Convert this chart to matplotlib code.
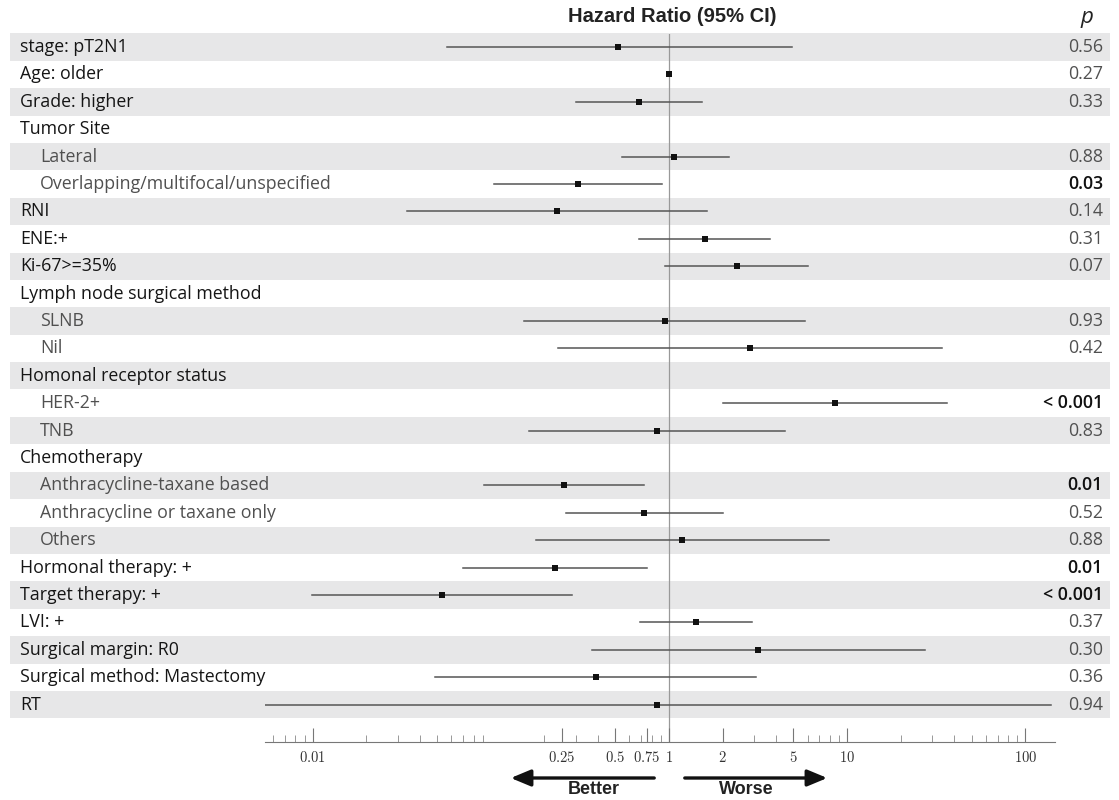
"""
Forest plot: hazard ratios with 95% CI
"""

import matplotlib
matplotlib.use('Agg')
import matplotlib.pyplot as plt
from matplotlib.ticker import FixedLocator, LogLocator, NullFormatter

plt.rcParams['mathtext.fontset'] = 'cm'

# 数据
labels = ['stage: pT2N1', 'Age: older', 'Grade: higher', 'Tumor Site',
          'Lateral', 'Overlapping/multifocal/unspecified', 'RNI', 'ENE:+',
          'Ki-67>=35%', 'Lymph node surgical method', 'SLNB', 'Nil',
          'Homonal receptor status', 'HER-2+', 'TNB', 'Chemotherapy',
          'Anthracycline-taxane based', 'Anthracycline or taxane only',
          'Others', 'Hormonal therapy: +', 'Target therapy: +', 'LVI: +',
          'Surgical margin: R0', 'Surgical method: Mastectomy', 'RT']
is_sub = [False, False, False, False, True, True, False, False, False, False,
          True, True, False, True, True, False, True, True, True, False,
          False, False, False, False, False]
hr = [0.52, 1.0, 0.68, None, 1.07, 0.31, 0.235, 1.59, 2.41, None, 0.95, 2.85,
      None, 8.56, 0.86, None, 0.257, 0.72, 1.18, 0.229, 0.053, 1.42, 3.16,
      0.39, 0.86]
ci_lo = [0.057, 0.99, 0.30, None, 0.545, 0.104, 0.034, 0.68, 0.95, None,
         0.153, 0.238, None, 2.01, 0.163, None, 0.091, 0.264, 0.179, 0.070,
         0.0099, 0.687, 0.369, 0.0485, 0.005]
ci_hi = [4.91, 1.01, 1.53, None, 2.17, 0.91, 1.64, 3.69, 6.04, None, 5.81,
         34.2, None, 36.5, 4.48, None, 0.72, 2.01, 7.92, 0.75, 0.285, 2.93,
         27.4, 3.08, 140]
p_vals = ['0.56', '0.27', '0.33', '', '0.88', '0.03', '0.14', '0.31', '0.07',
          '', '0.93', '0.42', '', '< 0.001', '0.83', '', '0.01', '0.52',
          '0.88', '0.01', '< 0.001', '0.37', '0.30', '0.36', '0.94']
p_bold = [False, False, False, False, False, True, False, False, False, False,
          False, False, False, True, False, False, True, False, False, True,
          True, False, False, False, False]
major_ticks = [0.01, 0.25, 0.5, 0.75, 1, 2, 5, 10, 100]
tick_labels = ['0.01', '0.25', '0.5', '0.75', '1', '2', '5', '10', '100']

W, H = 1119, 800
fig = plt.figure(figsize=(W / 100, H / 100), dpi=100)

# 背景坐标系 (像素坐标)
bg = fig.add_axes([0, 0, 1, 1])
bg.set_xlim(0, W)
bg.set_ylim(H, 0)
bg.axis('off')

y0, dy = 47, 27.4
ys = [y0 + i * dy for i in range(len(labels))]

for i, y in enumerate(ys):
    if i % 2 == 0:
        bg.axhspan(y - dy / 2, y + dy / 2, xmin=10 / W, xmax=1110 / W,
                   color='#e7e7e8', lw=0, zorder=0)
    if is_sub[i]:
        bg.text(40, y, labels[i], ha='left', va='center', fontsize=12.8,
                family='Open Sans', color='#505050')
    else:
        bg.text(20, y, labels[i], ha='left', va='center', fontsize=12.8,
                family='Open Sans', color='#151515')
    if p_vals[i]:
        bg.text(1103, y, p_vals[i], ha='right', va='center', fontsize=12.8,
                family='Open Sans',
                weight='semibold' if p_bold[i] else 'normal',
                color='#111111' if p_bold[i] else '#505050')

bg.text(672, 17, 'Hazard Ratio (95% CI)', ha='center', va='center',
        fontsize=14.5, family='Liberation Sans', weight='bold', color='#222222')
bg.text(1087, 17, 'p', ha='center', va='center', fontsize=16,
        family='Open Sans', style='italic', color='#222222')

# 箭头
bg.annotate('', xy=(508, 778), xytext=(657, 778),
            arrowprops=dict(arrowstyle='-|>,head_length=1.2,head_width=0.5',
                            lw=2.4, color='#111111'))
bg.annotate('', xy=(830, 778), xytext=(682, 778),
            arrowprops=dict(arrowstyle='-|>,head_length=1.2,head_width=0.5',
                            lw=2.4, color='#111111'))
bg.text(594, 789, 'Better', ha='center', va='center', fontsize=13,
        family='Liberation Sans', weight='bold', color='#222222')
bg.text(746, 789, 'Worse', ha='center', va='center', fontsize=13,
        family='Liberation Sans', weight='bold', color='#222222')

# 森林图坐标系
x_left, x_right, y_top, y_axis = 265, 1055, 34, 742
ax = fig.add_axes([x_left / W, 1 - y_axis / H, (x_right - x_left) / W,
                   (y_axis - y_top) / H])
ax.patch.set_alpha(0)
ax.set_xscale('log')
ax.set_xlim(0.0054, 147)
ax.set_ylim(y_axis, y_top)
for s in ['top', 'left', 'right']:
    ax.spines[s].set_visible(False)
ax.spines['bottom'].set_color('#777777')
ax.spines['bottom'].set_linewidth(0.8)
ax.set_yticks([])

ax.axvline(1, color='#999999', lw=0.9, zorder=1)

for i, y in enumerate(ys):
    if hr[i] is None:
        continue
    ax.plot([ci_lo[i], ci_hi[i]], [y, y], color='#555555', lw=1.1, zorder=2)
    ax.plot(hr[i], y, marker='s', ms=4, color='#111111', zorder=3,
            markeredgewidth=0)

ax.xaxis.set_major_locator(FixedLocator(major_ticks))
ax.set_xticklabels(['$%s$' % t for t in tick_labels])
ax.xaxis.set_minor_locator(LogLocator(base=10, subs=range(2, 10), numticks=20))
ax.xaxis.set_minor_formatter(NullFormatter())
ax.tick_params(axis='x', which='major', direction='in', length=10, width=0.8,
               color='#777777', labelsize=10.5, labelcolor='#333333', pad=6)
ax.tick_params(axis='x', which='minor', direction='in', length=5, width=0.6,
               color='#888888')

fig.savefig('out.png', dpi=100)
plt.close()
